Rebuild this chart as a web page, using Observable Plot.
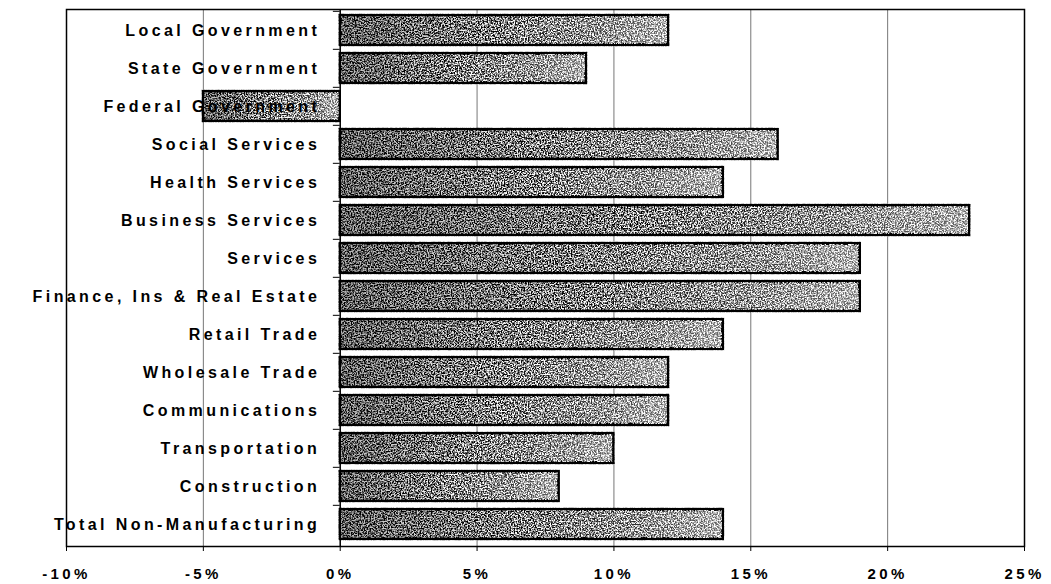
<!DOCTYPE html>
<html>
<head>
<meta charset="utf-8">
<script src="https://cdn.jsdelivr.net/npm/d3@7"></script>
<script src="https://cdn.jsdelivr.net/npm/@observablehq/plot@0.6"></script>
<style>
  html, body { margin: 0; padding: 0; background: #fff; }
  #chart svg { display: block; }
  #chart text { letter-spacing: 3.4px; }
</style>
</head>
<body>
<div id="chart"></div>
<script>
const categories = [
  "Local Government", "State Government", "Federal Government", "Social Services",
  "Health Services", "Business Services", "Services", "Finance, Ins & Real Estate",
  "Retail Trade", "Wholesale Trade", "Communications", "Transportation",
  "Construction", "Total Non-Manufacturing"
];
const growth = [12, 9, -5, 16, 14, 23, 19, 19, 14, 12, 12, 10, 8, 14];
const xTicks = [-10, -5, 0, 5, 10, 15, 20, 25];
const gridTicks = [-5, 5, 10, 15, 20];

const data = categories.map((c, i) => ({category: c, value: growth[i]}));

const W = 1051, H = 584;
const mTop = 9, mBottom = 38, mLeft = 66, mRight = 27;
const step = (H - mTop - mBottom) / categories.length;

const chart = Plot.plot({
  width: W,
  height: H,
  marginTop: mTop,
  marginBottom: mBottom,
  marginLeft: mLeft,
  marginRight: mRight,
  style: {fontFamily: "Liberation Sans, Arial, sans-serif", fontSize: "15px", color: "#000", background: "#fff"},
  x: {domain: [-10, 25], ticks: xTicks, tickFormat: d => d + "%", label: null, tickSize: 5, tickPadding: 17},
  y: {domain: categories, paddingInner: 0.2, paddingOuter: 0.1, axis: null},
  marks: [
    Plot.ruleX(gridTicks, {stroke: "#777", strokeWidth: 1}),
    Plot.barX(data, {x: "value", y: "category", fill: "url(#barGrad)", stroke: "#000", strokeWidth: 2.5}),
    Plot.ruleX([0], {stroke: "#000", strokeWidth: 1.5}),
    Plot.ruleY(categories, {y: d => d, x1: -0.25, x2: 0, dy: -step / 2, stroke: "#000"}),
    Plot.text(data, {x: 0, y: "category", text: "category", textAnchor: "end", dx: -20, fontWeight: "bold", fontSize: 16, fill: "#000"}),
    Plot.frame({stroke: "#000", strokeWidth: 1.5})
  ]
});

// gradient + grain texture for the bars
const ns = "http://www.w3.org/2000/svg";
const defs = document.createElementNS(ns, "defs");
defs.innerHTML = `
  <linearGradient id="barGrad" x1="0" y1="0" x2="1" y2="0">
    <stop offset="0" stop-color="#5a5a5a"/>
    <stop offset="0.45" stop-color="#7e7e7e"/>
    <stop offset="0.8" stop-color="#999"/>
    <stop offset="1" stop-color="#b4b4b4"/>
  </linearGradient>
  <filter id="grain" x="-5%" y="-15%" width="110%" height="130%" color-interpolation-filters="sRGB">
    <feTurbulence type="fractalNoise" baseFrequency="0.7" numOctaves="2" seed="5" result="noise"/>
    <feColorMatrix in="noise" type="matrix" values="3.4 0 0 0 -1.2  3.4 0 0 0 -1.2  3.4 0 0 0 -1.2  0 0 0 0 1" result="gray"/>
    <feBlend in="gray" in2="SourceGraphic" mode="overlay" result="tex"/>
    <feComposite in="tex" in2="SourceGraphic" operator="in"/>
  </filter>`;
chart.insertBefore(defs, chart.firstChild);
chart.querySelectorAll("[aria-label='bar'] rect").forEach(r => r.setAttribute("filter", "url(#grain)"));
chart.querySelectorAll("[aria-label='x-axis tick label'] text").forEach(t => { t.setAttribute("font-weight", "bold"); });

document.getElementById("chart").appendChild(chart);
</script>
</body>
</html>
